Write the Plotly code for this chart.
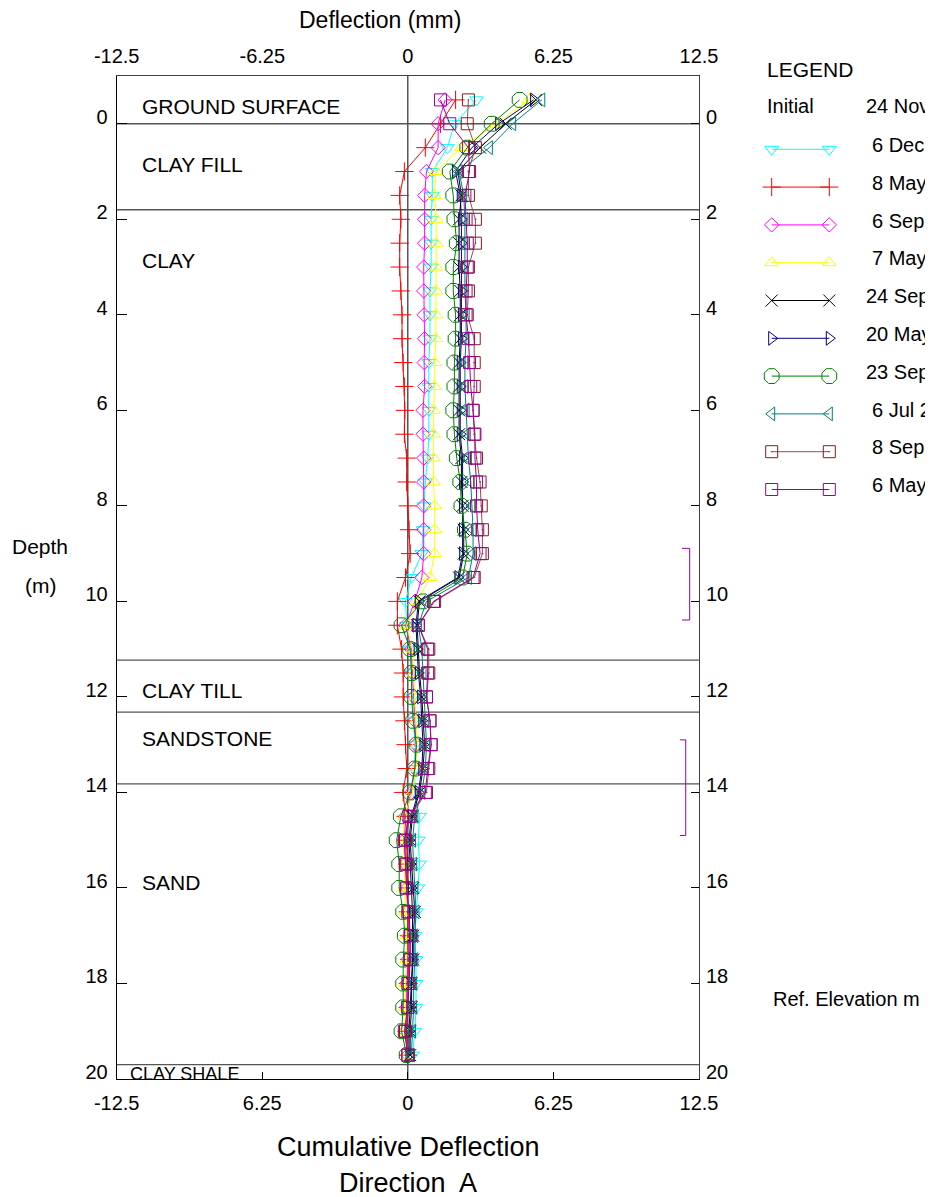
import plotly.graph_objects as go

# page is rendered with an 8px body margin: build the figure 8px smaller and offset coordinates
OFF = 8
W, H = 933 - OFF, 1197 - OFF

def fx(p):
    return (p - OFF) / W

def fy(p):
    return 1 - (p - OFF) / H

FONT = "Arial, Liberation Sans, sans-serif"

# ---------------- data ----------------
depths = [-0.5, 0.0, 0.5, 1.0, 1.5, 2.0, 2.5, 3.0, 3.5, 4.0, 4.5, 5.0, 5.5, 6.0, 6.5,
          7.0, 7.5, 8.0, 8.5, 9.0, 9.5, 10.0, 10.5, 11.0, 11.5, 12.0, 12.5, 13.0, 13.5,
          14.0, 14.5, 15.0, 15.5, 16.0, 16.5, 17.0, 17.5, 18.0, 18.5, 19.0, 19.5]

dec6 = [2.95, 2.0, 1.7, 1.05, 1.05, 1.0, 1.0, 1.0, 0.95, 0.95, 0.95, 0.9, 0.9, 0.9, 0.9,
        0.85, 0.75, 0.7, 0.65, 0.6, 0.15, -0.1, -0.05, 0.1, 0.15, 0.2, 0.25, 0.3, 0.3,
        0.3, 0.5, 0.45, 0.5, 0.43, 0.37, 0.3, 0.35, 0.35, 0.35, 0.3, 0.2]
may8 = [2.05, 1.4, 0.75, -0.15, -0.35, -0.3, -0.35, -0.35, -0.3, -0.25, -0.25, -0.2, -0.15,
        -0.13, -0.15, -0.05, -0.05, 0.0, 0.05, 0.1, -0.1, -0.45, -0.45, -0.27, -0.2, -0.2,
        -0.15, -0.1, -0.05, -0.2, -0.1, -0.05, 0.0, 0.0, 0.0, 0.05, 0.05, 0.0, 0.0, -0.05, 0.0]
sep6 = [1.6, 1.3, 1.3, 0.8, 0.72, 0.72, 0.72, 0.68, 0.68, 0.7, 0.72, 0.7, 0.72, 0.65, 0.65,
        0.68, 0.68, 0.68, 0.68, 0.68, 0.6, 0.3, -0.1, 0.15, 0.2, 0.25, 0.3, 0.35, 0.3, 0.15,
        -0.1, -0.15, -0.1, -0.05, 0.0, 0.05, 0.0, -0.05, -0.05, -0.1, 0.0]
may7 = [5.2, 3.8, 2.3, 1.2, 1.15, 1.22, 1.22, 1.22, 1.2, 1.2, 1.2, 1.15, 1.15, 1.1, 1.1,
        1.1, 1.1, 1.15, 1.15, 1.15, 0.95, 0.4, -0.05, 0.2, 0.25, 0.3, 0.35, 0.4, 0.35, 0.2,
        -0.15, -0.2, -0.15, -0.15, -0.1, -0.05, -0.05, -0.1, -0.1, -0.15, 0.0]
sep24 = [5.5, 4.2, 3.1, 2.15, 2.3, 2.2, 2.2, 2.2, 2.25, 2.25, 2.25, 2.2, 2.2, 2.2, 2.2,
         2.3, 2.3, 2.35, 2.4, 2.4, 2.2, 0.5, 0.4, 0.45, 0.5, 0.6, 0.65, 0.72, 0.65, 0.5,
         0.2, 0.1, 0.16, 0.23, 0.3, 0.23, 0.23, 0.16, 0.16, 0.1, 0.1]
may20 = [5.4, 3.9, 2.75, 2.05, 2.25, 2.3, 2.3, 2.3, 2.3, 2.3, 2.3, 2.25, 2.25, 2.25, 2.25,
         2.35, 2.35, 2.35, 2.35, 2.35, 2.15, 0.45, 0.35, 0.4, 0.45, 0.55, 0.6, 0.65, 0.6,
         0.45, 0.15, 0.05, 0.1, 0.15, 0.2, 0.2, 0.2, 0.15, 0.1, 0.05, 0.05]
sep23 = [4.8, 3.6, 2.55, 1.8, 1.95, 2.0, 2.1, 1.95, 1.95, 2.05, 2.05, 2.0, 2.0, 1.95, 2.0,
         2.1, 2.25, 2.3, 2.45, 2.55, 2.35, 0.65, -0.27, 0.1, 0.16, 0.16, 0.23, 0.37, 0.3,
         0.1, -0.3, -0.48, -0.37, -0.37, -0.2, -0.13, -0.2, -0.2, -0.2, -0.27, -0.05]
jul6 = [5.75, 4.5, 3.5, 2.2, 2.4, 2.45, 2.45, 2.45, 2.45, 2.5, 2.5, 2.45, 2.45, 2.5, 2.55,
        2.6, 2.7, 2.75, 2.8, 2.8, 2.6, 0.8, 0.45, 0.6, 0.65, 0.7, 0.75, 0.8, 0.75, 0.6,
        0.3, 0.2, 0.25, 0.3, 0.35, 0.3, 0.3, 0.25, 0.25, 0.2, 0.15]
sep8 = [2.6, 2.55, 2.9, 2.6, 2.6, 2.9, 2.9, 2.6, 2.6, 2.55, 2.85, 2.85, 2.85, 2.8, 2.85,
        2.95, 3.1, 3.15, 3.2, 3.2, 2.85, 1.15, 0.45, 0.9, 0.9, 0.8, 0.95, 1.0, 0.9, 0.8,
        0.1, -0.1, -0.05, -0.05, 0.0, 0.1, 0.1, 0.0, 0.0, -0.1, 0.0]
may6 = [1.4, 1.8, 2.6, 2.65, 2.45, 2.5, 2.55, 2.55, 2.5, 2.5, 2.6, 2.65, 2.7, 2.8, 2.88,
        2.88, 2.95, 2.95, 3.0, 3.1, 2.8, 1.1, 0.45, 0.85, 0.85, 0.8, 0.95, 1.0, 0.85, 0.75,
        0.05, -0.15, -0.1, -0.05, 0.05, 0.1, 0.1, 0.05, 0.0, -0.15, 0.0]

series_names = ["6 Dec", "8 May", "6 Sep", "7 May", "24 Sep", "20 May",
                "23 Sep", "6 Jul 2", "8 Sep", "6 May"]
series_values = [dec6, may8, sep6, may7, sep24, may20, sep23, jul6, sep8, may6]
series_colors = ["#00FFFF", "#FF0000", "#FF00FF", "#FFFF00", "#000000", "#000080",
                 "#008000", "#008080", "#8B1A1A", "#990099"]
series_line_colors = ["#00FFFF", "#FF0000", "#FF00FF", "#FFFF00", "#000000", "#000080",
                      "#008000", "#008080", "#A04848", "#990099"]
series_symbols = ["triangle-down-open", "cross-thin-open", "diamond-open", "triangle-up-open",
                  "x-thin-open", "triangle-right-open", "octagon-open", "triangle-left-open",
                  "square-open-dot", "square-open"]
series_sizes = [12, 13, 11, 12, 12, 12, 16, 12, 12, 12]

initial_label = "24 Nov"

x_ticks = [-12.5, -6.25, 0, 6.25, 12.5]
x_top_labels = ["-12.5", "-6.25", "0", "6.25", "12.5"]
x_bottom_labels = ["-12.5", "6.25", "0", "6.25", "12.5"]
y_ticks = [0, 2, 4, 6, 8, 10, 12, 14, 16, 18, 20]

layer_names = ["GROUND SURFACE", "CLAY FILL", "CLAY", "CLAY TILL", "SANDSTONE", "SAND", "CLAY SHALE"]
layer_tops = [0.0, 1.8, 11.23, 12.32, 13.82, 19.7]
layer_label_depths = [-0.37, 0.85, 2.87, 11.86, 12.88, 15.88, 19.9]

bracket_ranges = [(8.89, 10.39), (12.9, 14.9)]

# ---------------- figure ----------------
X0, X1 = 116.7, 699.0
Y0, Y1 = 76.0, 1079.0

fig = go.Figure()

for name, vals, col, lcol, sym, sz in zip(series_names, series_values, series_colors,
                                          series_line_colors, series_symbols, series_sizes):
    fig.add_trace(go.Scatter(
        x=vals, y=depths, mode="lines+markers", name=name,
        line=dict(color=lcol, width=1),
        marker=dict(symbol=sym, size=sz, color=col, line=dict(color=col, width=1)),
        xaxis="x", yaxis="y", showlegend=False, cliponaxis=False))

# custom legend samples (positions in page pixels on an overlay axis)
LEG_X = [771.7, 829.3]
LEG_ROW0 = 149.3
LEG_DY = 37.8
for i, (name, col, lcol, sym, sz) in enumerate(zip(series_names, series_colors,
                                                    series_line_colors, series_symbols,
                                                    series_sizes)):
    yrow = LEG_ROW0 + i * LEG_DY
    fig.add_trace(go.Scatter(
        x=LEG_X, y=[yrow, yrow], mode="lines+markers",
        line=dict(color=lcol, width=1),
        marker=dict(symbol=sym, size=sz, color=col, line=dict(color=col, width=1)),
        xaxis="x3", yaxis="y3", showlegend=False, hoverinfo="skip", cliponaxis=False))

axis_line = "#404040"
tickfont = dict(family=FONT, size=20, color="#000000")

fig.update_layout(
    width=W, height=H,
    margin=dict(l=0, r=0, t=0, b=0, autoexpand=False),
    paper_bgcolor="white", plot_bgcolor="rgba(0,0,0,0)",
    showlegend=False,
    xaxis=dict(domain=[fx(X0), fx(X1)], range=[-12.5, 12.5], tickvals=x_ticks,
               ticktext=x_bottom_labels, ticks="inside", ticklen=7, tickcolor="#000",
               showgrid=False, zeroline=False, showline=True, linecolor="#000", linewidth=1,
               tickfont=tickfont, anchor="y", side="bottom", ticklabelstandoff=6,
               automargin=False),
    xaxis2=dict(domain=[fx(X0), fx(X1)], range=[-12.5, 12.5], tickvals=x_ticks,
                ticktext=x_top_labels, ticks="", showgrid=False, zeroline=False,
                showline=True, linecolor=axis_line, linewidth=1, tickfont=tickfont,
                overlaying="x", side="top", anchor="y", ticklabelstandoff=4,
                automargin=False),
    yaxis=dict(domain=[fy(Y1), fy(Y0)], range=[20, -1], tickvals=y_ticks,
               ticks="inside", ticklen=10, tickcolor="#000", showgrid=False, zeroline=False,
               showline=True, linecolor="#000", linewidth=1, tickfont=tickfont,
               anchor="x", side="left", ticklabelstandoff=4, ticklabelshift=7,
               automargin=False),
    yaxis2=dict(domain=[fy(Y1), fy(Y0)], range=[20, -1], tickvals=y_ticks,
                ticks="inside", ticklen=8, tickcolor="#000", showgrid=False, zeroline=False,
                showline=True, linecolor=axis_line, linewidth=1, tickfont=tickfont,
                overlaying="y", side="right", anchor="x", ticklabelstandoff=2,
                ticklabelshift=7, automargin=False),
    xaxis3=dict(domain=[0, 1], range=[OFF, OFF + W], visible=False, anchor="y3",
                automargin=False),
    yaxis3=dict(domain=[0, 1], range=[OFF + H, OFF], visible=False, anchor="x3",
                automargin=False),
)

# dummy trace to activate the top/right axes
fig.add_trace(go.Scatter(x=[None], y=[None], xaxis="x2", yaxis="y2", showlegend=False))

shapes = []
shapes.append(dict(type="line", xref="x", yref="y", x0=0, x1=0, y0=-1, y1=20,
                   line=dict(color="#000000", width=1), layer="below"))
for d in layer_tops:
    shapes.append(dict(type="line", xref="x", yref="y", x0=-12.5, x1=12.5, y0=d, y1=d,
                       line=dict(color="#555555", width=1.3), layer="below"))
bracket_cols = ["#990099", "#990099"]
bracket_x = [(11.77, 12.1), (11.68, 11.93)]
for (d0, d1), (bx0, bx1), bc in zip(bracket_ranges, bracket_x, bracket_cols):
    shapes.append(dict(type="path", xref="x", yref="y",
                       path=f"M {bx0},{d0} L {bx1},{d0} L {bx1},{d1} L {bx0},{d1}",
                       line=dict(color=bc, width=1)))
fig.update_layout(shapes=shapes)

ann = []
for i, (nm, d) in enumerate(zip(layer_names, layer_label_depths)):
    xpos = -11.5 if nm != "CLAY SHALE" else -12.0
    ann.append(dict(text=nm, x=xpos, y=d, xref="x", yref="y", xanchor="left",
                    yanchor="middle", showarrow=False,
                    font=dict(family=FONT, size=21 if nm != "CLAY SHALE" else 18, color="#000")))

def pa(text, x, y, size=20, xanchor="left"):
    ann.append(dict(text=text, x=fx(x), y=fy(y), xref="paper", yref="paper",
                    xanchor=xanchor, yanchor="middle", showarrow=False,
                    font=dict(family=FONT, size=size, color="#000")))

pa("Deflection (mm)", 380, 20, size=23, xanchor="center")
pa("Depth", 40, 547, size=21, xanchor="center")
pa("(m)", 40, 585, size=21, xanchor="center")
pa("Cumulative Deflection", 408, 1147, size=27, xanchor="center")
pa("Direction\u00a0 A", 408, 1183, size=27, xanchor="center")
pa("Ref. Elevation m", 771, 999, size=20)
pa("LEGEND", 765, 69, size=21)
pa("Initial", 765, 106, size=20)
pa(initial_label, 864, 106, size=20)
for i, nm in enumerate(series_names):
    xt = 864 if len(nm.split()[0]) == 2 else 870
    pa(nm, xt, 145 + i * LEG_DY, size=20)

fig.update_layout(annotations=ann)

fig.write_html("out.html")
